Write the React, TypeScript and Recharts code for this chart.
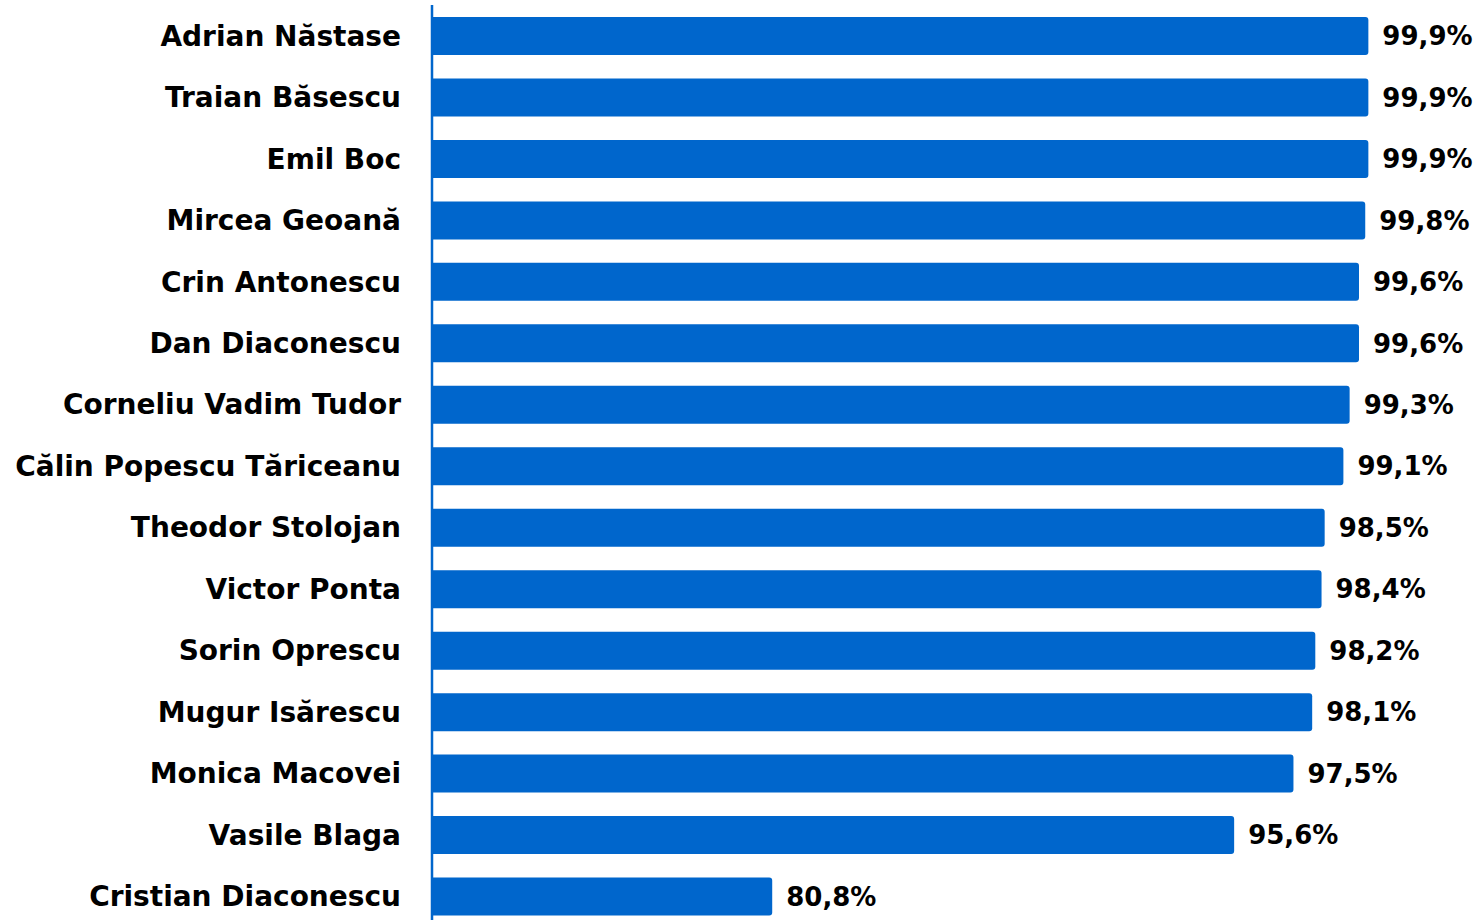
import { BarChart, Bar, XAxis, YAxis, LabelList } from "recharts";

const names = [
  "Adrian Năstase",
  "Traian Băsescu",
  "Emil Boc",
  "Mircea Geoană",
  "Crin Antonescu",
  "Dan Diaconescu",
  "Corneliu Vadim Tudor",
  "Călin Popescu Tăriceanu",
  "Theodor Stolojan",
  "Victor Ponta",
  "Sorin Oprescu",
  "Mugur Isărescu",
  "Monica Macovei",
  "Vasile Blaga",
  "Cristian Diaconescu",
];

const shares = [99.9, 99.9, 99.9, 99.8, 99.6, 99.6, 99.3, 99.1, 98.5, 98.4, 98.2, 98.1, 97.5, 95.6, 80.8];

const data = names.map((name, i) => ({ name, value: shares[i] }));

const BLUE = "#0066CC";
const FONT = "'DejaVu Sans', sans-serif";

function fmt(v: any) {
  return `${Number(v).toFixed(1).replace(".", ",")}%`;
}

export default function App() {
  return (
    <div style={{ position: "absolute", left: 0, top: 0, width: 1479, height: 920, overflow: "hidden", background: "#fff" }}>
      <BarChart
        width={1479}
        height={927}
        data={data}
        layout="vertical"
        margin={{ top: 5, right: 17, left: 0, bottom: 0 }}
        barSize={38}
      >
        <XAxis type="number" domain={[69.9, 102.9]} hide />
        <YAxis
          type="category"
          dataKey="name"
          width={432}
          axisLine={{ stroke: BLUE, strokeWidth: 2.5 }}
          tickLine={false}
          tickMargin={25}
          interval={0}
          tick={{ fill: "#000", fontSize: 28, fontWeight: 700, fontFamily: FONT }}
        />
        <Bar dataKey="value" fill={BLUE} radius={[0, 3, 3, 0]} isAnimationActive={false}>
          <LabelList
            dataKey="value"
            position="right"
            offset={14}
            formatter={fmt}
            style={{ fill: "#000", fontSize: 26, fontWeight: 700, fontFamily: FONT }}
          />
        </Bar>
      </BarChart>
    </div>
  );
}
